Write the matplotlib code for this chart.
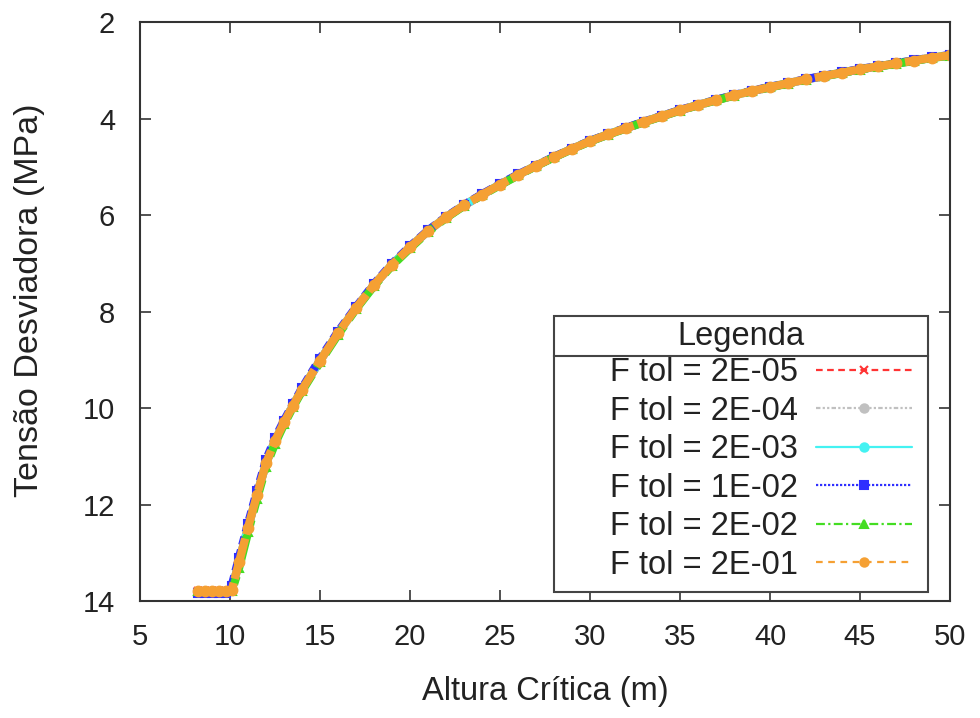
import matplotlib
matplotlib.use('Agg')
import matplotlib.pyplot as plt
from matplotlib.lines import Line2D
from matplotlib.patches import Rectangle

# ---------------- data ----------------
altura = [8.2, 8.6, 9.0, 9.4, 9.8, 10.1, 10.5, 11, 11.5, 12, 12.5, 13, 13.5, 14,
          15, 16, 17, 18, 19, 20, 21, 22, 23, 24, 25, 26, 27, 28, 29, 30,
          31, 32, 33, 34, 35, 36, 37, 38, 39, 40, 41, 42, 43, 44, 45, 46, 47, 48, 49, 50]

tensao_base = [13.8, 13.8, 13.8, 13.8, 13.8, 13.77, 13.2, 12.48, 11.8, 11.15, 10.68, 10.3, 9.95, 9.62,
               9.02, 8.45, 7.93, 7.45, 7.03, 6.67, 6.33, 6.05, 5.8, 5.58, 5.37, 5.17, 4.98, 4.8, 4.63, 4.47,
               4.33, 4.2, 4.07, 3.95, 3.83, 3.72, 3.62, 3.52, 3.43, 3.35, 3.27, 3.19, 3.12, 3.05, 2.98,
               2.92, 2.86, 2.8, 2.74, 2.69]

tensao_1e02 = [13.84, 13.84, 13.84, 13.84, 13.84, 13.68, 13.1, 12.4, 11.72, 11.08, 10.63, 10.26, 9.92, 9.59,
               8.98, 8.42, 7.91, 7.43, 7.01, 6.65, 6.32, 6.04, 5.79, 5.57, 5.36, 5.16, 4.975, 4.795, 4.625, 4.465,
               4.325, 4.195, 4.065, 3.945, 3.825, 3.715, 3.615, 3.515, 3.425, 3.345, 3.265, 3.185, 3.115, 3.045, 2.975,
               2.915, 2.855, 2.795, 2.735, 2.685]

tensao_2e02 = [13.8, 13.8, 13.8, 13.8, 13.8, 13.8, 13.32, 12.58, 11.88, 11.22, 10.74, 10.34, 9.98, 9.65,
               9.05, 8.48, 7.95, 7.47, 7.05, 6.69, 6.35, 6.06, 5.81, 5.59, 5.38, 5.18, 4.985, 4.805, 4.635, 4.475,
               4.335, 4.205, 4.075, 3.955, 3.835, 3.725, 3.625, 3.525, 3.435, 3.355, 3.275, 3.195, 3.125, 3.055, 2.985,
               2.925, 2.865, 2.805, 2.745, 2.695]

labels = ['F tol = 2E-05', 'F tol = 2E-04', 'F tol = 2E-03',
          'F tol = 1E-02', 'F tol = 2E-02', 'F tol = 2E-01']
series = [tensao_base, tensao_base, tensao_base, tensao_1e02, tensao_2e02, tensao_base]

x_ticks = [5, 10, 15, 20, 25, 30, 35, 40, 45, 50]
y_ticks = [2, 4, 6, 8, 10, 12, 14]

# ---------------- styles ----------------
colors = ['#ff3333', '#c0c0c0', '#44f2f2', '#2f2fff', '#44dd22', '#f5a033']
plot_styles = [(0, (3, 1)), (0, (2, 1, 1, 1, 1, 1)), '-', (0, (1, 0.6)),
               (0, (4, 1, 1, 1)), (0, (5, 0.5))]
legend_styles = [(0, (3, 2)), (0, (2, 1, 1, 1, 1, 1)), '-', (0, (1, 0.8)),
                 (0, (4, 1.5, 1, 1.5)), (0, (3, 2.5))]
markers = ['x', 'o', 'o', 's', '^', 'o']
msizes = [6, 6, 6, 5.5, 6, 7]

plt.rcParams['font.family'] = ['Liberation Sans', 'DejaVu Sans']
FS_TICK = 21
FS_LEG = 23.5

fig = plt.figure(figsize=(9.8, 7.18), dpi=100)
ax = fig.add_axes([140 / 980, 1 - 601 / 718, 810 / 980, 579 / 718])

for y, lab, c, ls, m, ms in zip(series, labels, colors, plot_styles, markers, msizes):
    ax.plot(altura, y, color=c, linestyle=ls, linewidth=6, marker=m,
            markersize=ms, markeredgewidth=1.5, label=lab,
            solid_capstyle='round', dash_capstyle='butt', solid_joinstyle='round')

ax.set_xlim(5, 50)
ax.set_ylim(14, 2)
ax.set_xticks(x_ticks)
ax.set_yticks(y_ticks)
ax.tick_params(direction='in', length=8, width=1.2, top=True, right=True,
               labelsize=FS_TICK, colors='#333333', labelcolor='#222222')
ax.tick_params(axis='x', pad=16)
ax.tick_params(axis='y', pad=18)
for s in ax.spines.values():
    s.set_color('#333333')
    s.set_linewidth(1.5)

ax.set_xlabel('Altura Crítica (m)', fontsize=23.5, color='#222222', labelpad=18)
ax.set_ylabel('Tensão Desviadora (MPa)', fontsize=24.5, color='#222222')
ax.yaxis.set_label_coords(-0.117, 0.52)

leg = ax.legend(loc='upper right', bbox_to_anchor=(912 / 980, 1 - 357 / 718),
                bbox_transform=fig.transFigure,
                markerfirst=False, fontsize=FS_LEG, frameon=False,
                handlelength=2.95, handletextpad=0.55, labelspacing=0.23,
                borderpad=0, borderaxespad=0, numpoints=1)
for t in leg.get_texts():
    t.set_color('#222222')
for l, ls in zip(leg.get_lines(), legend_styles):
    l.set_linewidth(1.6)
    l.set_linestyle(ls)
    l.set_markersize(6)

# legend frame, title and separator (gnuplot style)
fig.canvas.draw()
r = fig.canvas.get_renderer()
lb = leg.get_window_extent(r)
fx0, fx1 = lb.x0 - 56, lb.x1 + 16
fy0, fy1 = lb.y0 - 11, lb.y1 + 41
sep = lb.y1 + 1
inv = fig.transFigure.inverted()
(X0, Y0) = inv.transform((fx0, fy0))
(X1, Y1) = inv.transform((fx1, fy1))
(_, YS) = inv.transform((fx0, sep))
fig.add_artist(Rectangle((X0, Y0), X1 - X0, Y1 - Y0, transform=fig.transFigure,
                         facecolor='white', edgecolor='#444444', linewidth=1.5, zorder=4))
fig.add_artist(Line2D([X0, X1], [YS, YS], transform=fig.transFigure,
                      color='#444444', linewidth=1.5, zorder=5))
fig.text((X0 + X1) / 2, (YS + Y1) / 2, 'Legenda', ha='center', va='center',
         fontsize=FS_LEG, color='#222222', zorder=6)
leg.set_zorder(7)
leg.remove()
fig.add_artist(leg)

fig.savefig('out.png', dpi=100, facecolor='white')
